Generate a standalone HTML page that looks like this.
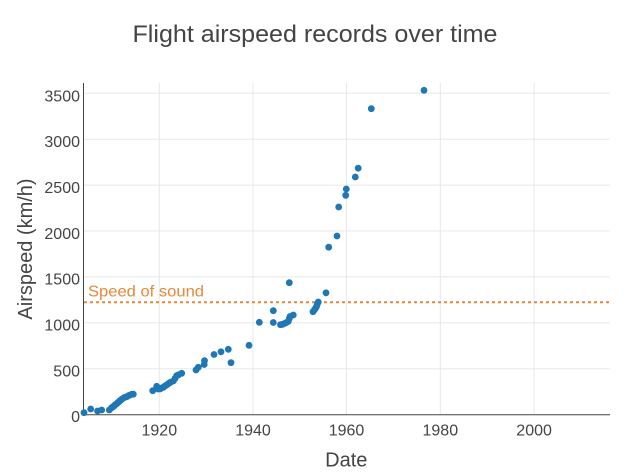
<!DOCTYPE html>
<html>
<head>
<meta charset="utf-8">
<style>
  html, body { margin: 0; padding: 0; background: #fff; }
  svg { display: block; font-family: "Liberation Sans", "DejaVu Sans", sans-serif; }
</style>
</head>
<body>
<svg width="630" height="473" viewBox="0 0 630 473" xmlns="http://www.w3.org/2000/svg">
  <rect width="630" height="473" fill="#fff"/>

  <text x="315" y="42" font-size="24" fill="#444" text-anchor="middle" textLength="365" lengthAdjust="spacingAndGlyphs">Flight airspeed records over time</text>

  <g stroke="#e8e8e8" stroke-width="1">
    <line x1="83" x2="610" y1="368.7" y2="368.7"/>
    <line x1="83" x2="610" y1="322.8" y2="322.8"/>
    <line x1="83" x2="610" y1="276.9" y2="276.9"/>
    <line x1="83" x2="610" y1="231" y2="231"/>
    <line x1="83" x2="610" y1="185.1" y2="185.1"/>
    <line x1="83" x2="610" y1="139.2" y2="139.2"/>
    <line x1="83" x2="610" y1="93.3" y2="93.3"/>
    <line x1="159.3" x2="159.3" y1="83" y2="415"/>
    <line x1="253" x2="253" y1="83" y2="415"/>
    <line x1="346.5" x2="346.5" y1="83" y2="415"/>
    <line x1="440.3" x2="440.3" y1="83" y2="415"/>
    <line x1="534.1" x2="534.1" y1="83" y2="415"/>
  </g>

  <line x1="84" x2="610" y1="302.3" y2="302.3" stroke="#e5893a" stroke-width="2" stroke-dasharray="3,3"/>
  <text x="88" y="296.5" font-size="16" fill="#e5893a" textLength="116" lengthAdjust="spacingAndGlyphs">Speed of sound</text>

  <line x1="83.5" x2="83.5" y1="83" y2="415" stroke="#444" stroke-width="1"/>
  <line x1="83" x2="610" y1="414.8" y2="414.8" stroke="#444" stroke-width="1"/>

  <g font-size="16" fill="#444" text-anchor="end">
    <text x="80" y="422.2">0</text>
    <text x="80" y="376.4">500</text>
    <text x="80" y="330.5">1000</text>
    <text x="80" y="284.6">1500</text>
    <text x="80" y="238.8">2000</text>
    <text x="80" y="192.9">2500</text>
    <text x="80" y="147">3000</text>
    <text x="80" y="101.4">3500</text>
  </g>

  <g font-size="16" fill="#444" text-anchor="middle">
    <text x="159.3" y="435.7">1920</text>
    <text x="253" y="435.7">1940</text>
    <text x="346.5" y="435.7">1960</text>
    <text x="440.3" y="435.7">1980</text>
    <text x="534.1" y="435.7">2000</text>
  </g>

  <text x="346.3" y="466.7" font-size="20" fill="#444" text-anchor="middle">Date</text>
  <text transform="translate(32,249) rotate(-90)" font-size="20" fill="#444" text-anchor="middle">Airspeed (km/h)</text>

  <g fill="#1f77b4">
    <circle cx="84" cy="412.7" r="3.4"/>
    <circle cx="90.7" cy="409" r="3.4"/>
    <circle cx="97.5" cy="411" r="3.4"/>
    <circle cx="101.7" cy="410" r="3.4"/>
    <circle cx="109.3" cy="410" r="3.4"/>
    <circle cx="111.7" cy="407.7" r="3.4"/>
    <circle cx="113" cy="406.8" r="3.4"/>
    <circle cx="114.3" cy="405.7" r="3.4"/>
    <circle cx="115.5" cy="404.6" r="3.4"/>
    <circle cx="116.7" cy="403.7" r="3.4"/>
    <circle cx="118" cy="402.5" r="3.4"/>
    <circle cx="119.3" cy="401.3" r="3.4"/>
    <circle cx="120.5" cy="400.3" r="3.4"/>
    <circle cx="121.7" cy="399.3" r="3.4"/>
    <circle cx="124" cy="397.7" r="3.4"/>
    <circle cx="126.7" cy="396.7" r="3.4"/>
    <circle cx="129.3" cy="395.3" r="3.4"/>
    <circle cx="131.7" cy="394.3" r="3.4"/>
    <circle cx="133.3" cy="394.2" r="3.4"/>
    <circle cx="152.7" cy="390.7" r="3.4"/>
    <circle cx="156.7" cy="386.3" r="3.4"/>
    <circle cx="158" cy="389" r="3.4"/>
    <circle cx="160" cy="389" r="3.4"/>
    <circle cx="161.5" cy="388" r="3.4"/>
    <circle cx="163.3" cy="387.3" r="3.4"/>
    <circle cx="165" cy="386" r="3.4"/>
    <circle cx="166.7" cy="385" r="3.4"/>
    <circle cx="168.5" cy="383.5" r="3.4"/>
    <circle cx="170.5" cy="382.3" r="3.4"/>
    <circle cx="173.3" cy="381" r="3.4"/>
    <circle cx="175" cy="378.5" r="3.4"/>
    <circle cx="176.7" cy="375.7" r="3.4"/>
    <circle cx="178.5" cy="374.8" r="3.4"/>
    <circle cx="181.7" cy="373.3" r="3.4"/>
    <circle cx="196" cy="370" r="3.4"/>
    <circle cx="198.3" cy="367.3" r="3.4"/>
    <circle cx="204.2" cy="364.5" r="3.4"/>
    <circle cx="204.5" cy="360.7" r="3.4"/>
    <circle cx="214" cy="354.5" r="3.4"/>
    <circle cx="221" cy="351.8" r="3.4"/>
    <circle cx="228.3" cy="349.3" r="3.4"/>
    <circle cx="231" cy="362.7" r="3.4"/>
    <circle cx="249" cy="345.3" r="3.4"/>
    <circle cx="259.3" cy="322.3" r="3.4"/>
    <circle cx="273.3" cy="310.7" r="3.4"/>
    <circle cx="273.3" cy="322.5" r="3.4"/>
    <circle cx="280.5" cy="324.7" r="3.4"/>
    <circle cx="282.5" cy="324.3" r="3.4"/>
    <circle cx="284.5" cy="323.5" r="3.4"/>
    <circle cx="286.5" cy="322.5" r="3.4"/>
    <circle cx="288.3" cy="321.3" r="3.4"/>
    <circle cx="289.3" cy="318.5" r="3.4"/>
    <circle cx="290" cy="316.5" r="3.4"/>
    <circle cx="293.3" cy="315" r="3.4"/>
    <circle cx="289.3" cy="282.7" r="3.4"/>
    <circle cx="313" cy="311.7" r="3.4"/>
    <circle cx="314.3" cy="310" r="3.4"/>
    <circle cx="315.5" cy="308.3" r="3.4"/>
    <circle cx="316.5" cy="306.5" r="3.4"/>
    <circle cx="317.3" cy="304" r="3.4"/>
    <circle cx="318.3" cy="302" r="3.4"/>
    <circle cx="326" cy="292.8" r="3.4"/>
    <circle cx="328.7" cy="247.2" r="3.4"/>
    <circle cx="337" cy="236" r="3.4"/>
    <circle cx="338.7" cy="207" r="3.4"/>
    <circle cx="345.7" cy="195.3" r="3.4"/>
    <circle cx="346.3" cy="189" r="3.4"/>
    <circle cx="355.3" cy="177" r="3.4"/>
    <circle cx="358.2" cy="168.2" r="3.4"/>
    <circle cx="371.3" cy="108.7" r="3.4"/>
    <circle cx="424" cy="90.3" r="3.4"/>
  </g>
</svg>
</body>
</html>
